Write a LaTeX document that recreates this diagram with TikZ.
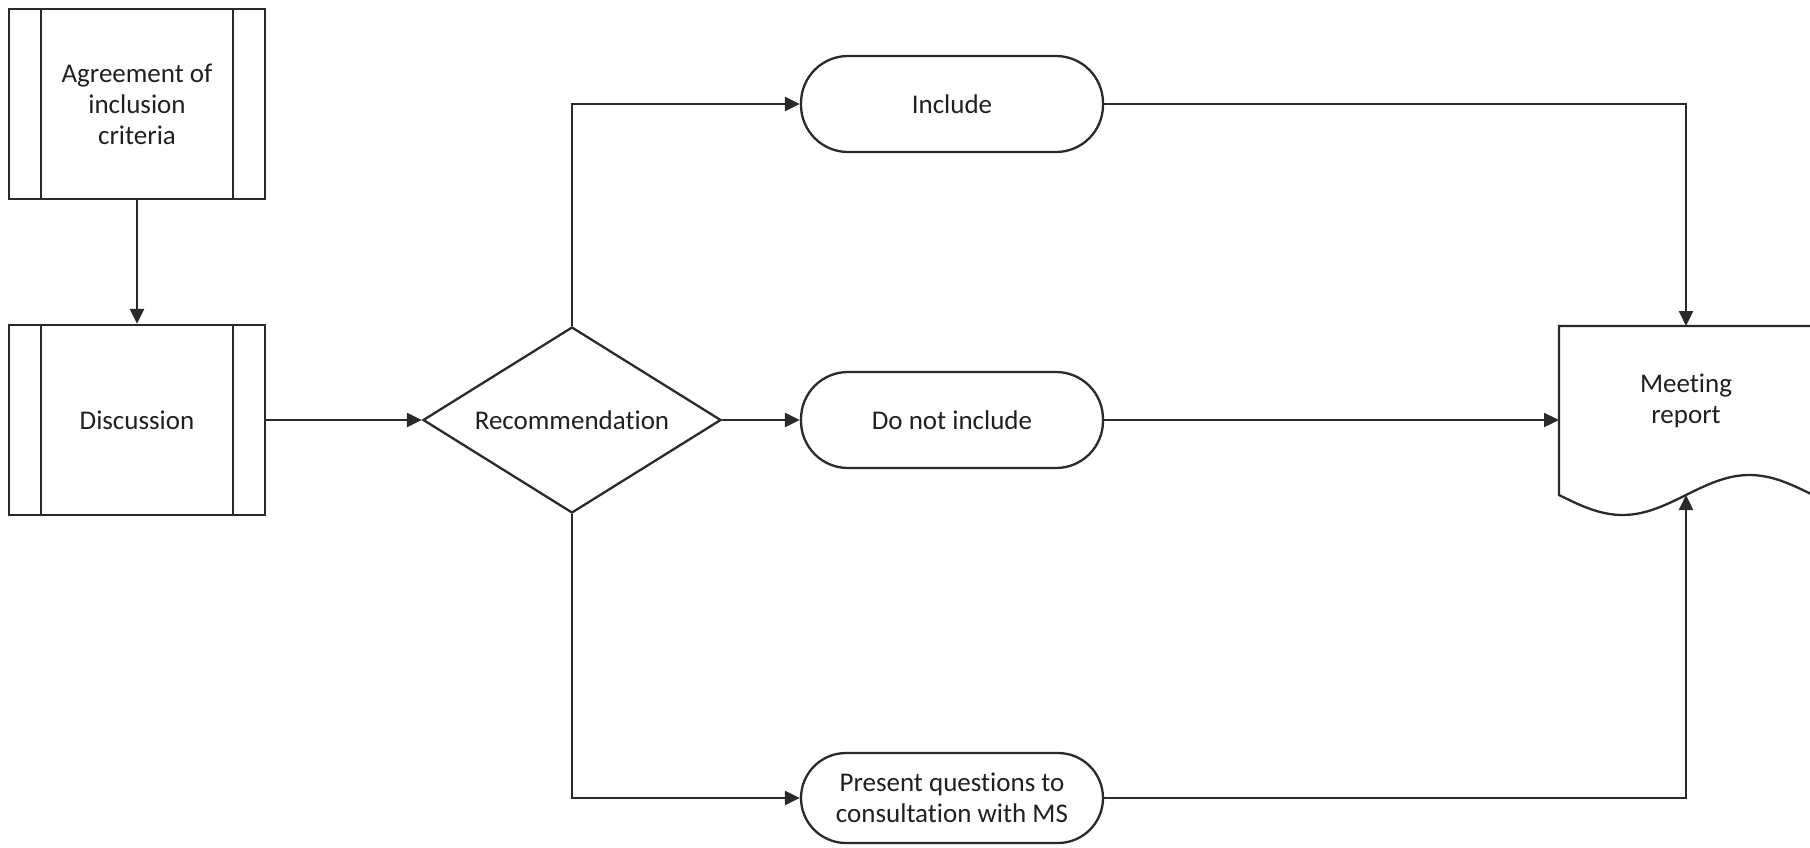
\documentclass[tikz,border=0pt]{standalone}
\usepackage{fontspec}
\setmainfont[RawFeature={-liga;-clig;-dlig}]{Carlito}
\usetikzlibrary{arrows.meta,shapes.geometric,calc}
\definecolor{ln}{HTML}{2A2A2A}
\definecolor{tx}{HTML}{202020}
\tikzset{
  base/.style={draw=ln, line width=2.3pt, fill=white, text=tx, font=\fontsize{27}{31}\selectfont, align=center, inner sep=0pt},
  procbox/.style={base, rectangle, minimum width=256pt, minimum height=190pt},
  termbox/.style={base, rectangle, rounded corners=47pt, minimum width=302pt, minimum height=96pt},
  decbox/.style={base, diamond, minimum width=298pt, minimum height=186pt},
  plain/.style={text=tx, font=\fontsize{27}{31}\selectfont, align=center, inner sep=0pt},
  arr/.style={draw=ln, line width=2.3pt, -{Triangle[length=15pt,width=14pt]}},
  inner/.style={draw=ln, line width=2.3pt}
}
\begin{document}
\begin{tikzpicture}[x=1pt,y=-1pt]
\useasboundingbox (0,0) rectangle (1810,847);
\fill[white] (0,0) rectangle (1810,847);

% predefined processes
\node[procbox] (agree) at (137,104) {Agreement of\\inclusion\\criteria};
\node[procbox] (disc) at (137,420) {Discussion};
\foreach \n in {agree,disc}{
  \draw[inner] ($(\n.north west)+(33,0)$) -- ($(\n.south west)+(33,0)$);
  \draw[inner] ($(\n.north east)+(-33,0)$) -- ($(\n.south east)+(-33,0)$);
}

% decision
\node[decbox] (rec) at (572,420) {};
\node[plain] (rectext) at (rec.center) {Recommendation};

% terminators
\node[termbox] (inc) at (952,104) {Include};
\node[termbox] (dni) at (952,420) {Do not include};
\node[termbox, minimum height=90pt, rounded corners=45pt] (pq) at (952,798) {Present questions to\\consultation with MS};

% document
\draw[draw=ln, line width=2.3pt, fill=white]
  (1813,326) -- (1559,326) -- (1559,495)
  sin (1622.5,515) cos (1686,495) sin (1749.5,475) cos (1813,495) -- cycle;
\node[plain] (doc) at (1686,401) {Meeting\\report};
\coordinate (doctop) at (1686,326);
\coordinate (docleft) at (1559,420);
\coordinate (docwave) at (1686,495);

% connectors
\draw[arr] (agree.south) -- (disc.north);
\draw[arr] (disc.east) -- (rec.west);
\draw[arr] (rec.north) |- (inc.west);
\draw[arr] (rec.east) -- (dni.west);
\draw[arr] (rec.south) |- (pq.west);
\draw[arr] (inc.east) -| (doctop);
\draw[arr] (dni.east) -- (docleft);
\draw[arr] (pq.east) -| (docwave);
\end{tikzpicture}
\end{document}
